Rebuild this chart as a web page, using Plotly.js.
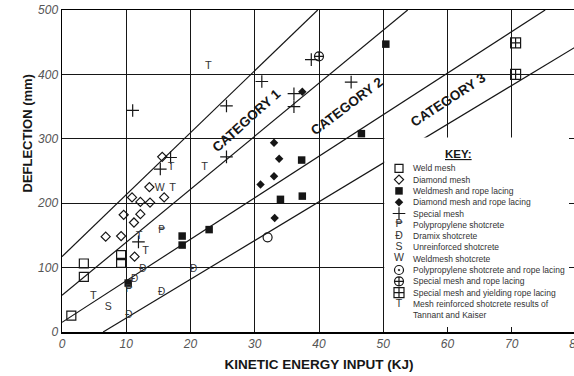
<!DOCTYPE html>
<html>
<head>
<meta charset="utf-8">
<script src="https://cdn.plot.ly/plotly-3.0.1.min.js"></script>
<style>
html,body{margin:0;padding:0;overflow:hidden;background:#fff;width:574px;height:376px;}
#chart{width:577px;height:376px;}
</style>
</head>
<body>
<div id="chart"></div>
<script>
// ---------------- data ----------------
const weldMeshX = [1.45, 3.4, 3.4, 9.2, 9.2];
const weldMeshY = [25.5, 85.6, 106.4, 119.4, 107.4];

const diamondMeshX = [15.6, 13.6, 10.9, 12.2, 13.7, 15.9, 9.6, 12.2, 11.2, 6.8, 9.2, 11.3];
const diamondMeshY = [272, 225, 209, 202, 201, 209, 182, 183, 170, 148, 149, 117];

const weldRopeX = [10.3, 18.7, 18.7, 22.9, 34.0, 37.4, 37.3, 46.6, 50.4];
const weldRopeY = [76, 149, 135, 159, 206, 211, 267, 308, 447];

const diamondRopeX = [30.9, 33.0, 33.0, 33.8, 33.1, 37.4];
const diamondRopeY = [229, 242, 294, 269, 177, 373];

const specialMeshX = [11.0, 25.6, 25.6, 16.9, 15.3, 11.9, 31.1, 45.0, 36.1, 36.1, 38.8];
const specialMeshY = [344, 351, 272, 271, 253, 140, 389, 388, 370, 350, 423];

const polyShotX = [15.5, 10.4];
const polyShotY = [158, 66];

const dramixX = [12.6, 20.5, 15.5, 10.4, 11.3];
const dramixY = [97, 97, 61, 26, 81];

const unreinforcedX = [7.2];
const unreinforcedY = [39];

const weldShotX = [15.2];
const weldShotY = [223];

const polyRopeX = [32.0];
const polyRopeY = [147];

const specialRopeX = [40.0];
const specialRopeY = [428];

const yieldingRopeX = [70.6, 70.6];
const yieldingRopeY = [449, 400];

const tannantX = [22.8, 17.0, 22.2, 17.2, 12.0, 13.0, 4.9];
const tannantY = [413, 256, 256, 223, 148, 126, 55];

// category boundary lines [start, end]
const lineAX = [0, 39.8],  lineAY = [117, 500];
const lineBX = [0, 53.8],  lineBY = [57, 500];
const lineCX = [0, 75.2],  lineCY = [15, 500];
const lineDX = [6.4, 80],  lineDY = [0, 443];

const categoryLabels = ['CATEGORY 1', 'CATEGORY 2', 'CATEGORY 3'];
const categoryX = [28.7, 44.3, 60.2];
const categoryY = [329, 350, 361];
const categoryAngle = [-42, -37, -33];

const xTicks = [0, 10, 20, 30, 40, 50, 60, 70, 80];
const yTicks = [0, 100, 200, 300, 400, 500];

const keyLabels = ['Weld mesh', 'Diamond mesh', 'Weldmesh and rope lacing', 'Diamond mesh and rope lacing',
  'Special mesh', 'Polypropylene shotcrete', 'Dramix shotcrete', 'Unreinforced shotcrete',
  'Weldmesh shotcrete', 'Polypropylene shotcrete and rope lacing', 'Special mesh and rope lacing',
  'Special mesh and yielding rope lacing', 'Mesh reinforced shotcrete results of', 'Tannant and Kaiser'];
// key symbol per row: marker symbol, or a letter (text), or '' for none
const keyMarkerSymbols = ['square-open', 'diamond-open', 'square', 'diamond', 'cross-thin-open', '', '', '', '',
  'circle-open-dot', 'circle-cross-open', 'square-cross-open', '', ''];
const keyLetters = ['', '', '', '', '', '\u20B1', '\u0110', 'S', 'W', '', '', '', 'T', ''];

// ---------------- layout constants ----------------
const W = 577, H = 376, ML = 62, MR = 1, MT = 10, MB = 44;
const XR = [0, 80], YR = [0, 500];
const pw = W - ML - MR, ph = H - MT - MB;
const px2paper = p => (p - ML) / pw;
const py2paper = p => (H - MB - p) / ph;
const px2x = p => XR[0] + px2paper(p) * (XR[1] - XR[0]);
const py2y = p => YR[0] + py2paper(p) * (YR[1] - YR[0]);
const KEY_TOP = 168.3, KEY_STEP = 11.3, KEY_SYM_PX = 399, KEY_TEXT_PX = 411.5;

const FONT = 'Liberation Sans, Arial, Helvetica, sans-serif';
const INK = '#161616';

function lineTrace(x, y) {
  return {x: x, y: y, type: 'scatter', mode: 'lines', line: {color: INK, width: 1.2}, hoverinfo: 'skip', showlegend: false};
}
function markTrace(x, y, symbol, size, filled) {
  return {x: x, y: y, type: 'scatter', mode: 'markers', showlegend: false,
    marker: {symbol: symbol, size: size, color: INK, line: {color: INK, width: filled ? 0 : 1.2}}};
}
function textTrace(x, y, ch, size) {
  return {x: x, y: y, type: 'scatter', mode: 'text', showlegend: false,
    text: Array.isArray(ch) ? ch : x.map(() => ch), textposition: 'middle center',
    textfont: {family: FONT, size: size, color: '#333'}};
}

const sizeBySymbol = {'square-open': 8, 'diamond-open': 7, 'square': 7.5, 'diamond': 6.5, 'cross-thin-open': 9,
  'circle-open-dot': 9, 'circle-open': 9, 'circle-cross-open': 9, 'square-cross-open': 10};

const traces = [
  lineTrace(lineAX, lineAY), lineTrace(lineBX, lineBY), lineTrace(lineCX, lineCY), lineTrace(lineDX, lineDY),
  markTrace(weldMeshX, weldMeshY, 'square-open', 9, false),
  markTrace(diamondMeshX, diamondMeshY, 'diamond-open', 7, false),
  markTrace(weldRopeX, weldRopeY, 'square', 7.5, true),
  markTrace(diamondRopeX, diamondRopeY, 'diamond', 6.5, true),
  markTrace(specialMeshX, specialMeshY, 'cross-thin-open', 9, false),
  markTrace(polyRopeX, polyRopeY, 'circle-open', 9, false),
  markTrace(specialRopeX, specialRopeY, 'circle-cross-open', 9, false),
  markTrace(yieldingRopeX, yieldingRopeY, 'square-cross-open', 10, false),
  textTrace(polyShotX, polyShotY, '\u20B1', 10),
  textTrace(dramixX, dramixY, '\u0110', 10),
  textTrace(unreinforcedX, unreinforcedY, 'S', 10.5),
  textTrace(weldShotX, weldShotY, 'W', 10.5),
  textTrace(tannantX, tannantY, 'T', 11)
];

// key background (white panel over the lower-right of the plot)
const boxX0 = 50.15, boxX1 = px2x(569), boxY0 = py2y(327), boxY1 = 302;
traces.push({x: [boxX0, boxX1, boxX1, boxX0, boxX0], y: [boxY0, boxY0, boxY1, boxY1, boxY0],
  type: 'scatter', mode: 'lines', fill: 'toself', fillcolor: '#fff', line: {width: 0, color: 'rgba(0,0,0,0)'},
  hoverinfo: 'skip', showlegend: false});

// key symbols
const keyRowY = keyLabels.map((_, i) => py2y(KEY_TOP + i * KEY_STEP));
keyMarkerSymbols.forEach((s, i) => {
  if (!s) return;
  const filled = (s === 'square' || s === 'diamond');
  traces.push(markTrace([px2x(KEY_SYM_PX)], [keyRowY[i]], s, sizeBySymbol[s], filled));
});
const letterRows = keyLetters.map((c, i) => c ? i : -1).filter(i => i >= 0);
traces.push(textTrace(letterRows.map(() => px2x(KEY_SYM_PX)), letterRows.map(i => keyRowY[i]),
  letterRows.map(i => keyLetters[i]), 10.5));

const annotations = [];
categoryLabels.forEach((t, i) => {
  annotations.push({xref: 'x', yref: 'y', x: categoryX[i], y: categoryY[i], text: t, showarrow: false,
    textangle: categoryAngle[i], font: {family: FONT, size: 13.5, color: INK, weight: 'bold'}});
});
annotations.push({xref: 'paper', yref: 'paper', x: px2paper(17), y: py2paper(134), text: 'DEFLECTION (mm)',
  showarrow: false, textangle: -90, font: {family: FONT, size: 13, color: INK, weight: 'bold'}});
annotations.push({xref: 'paper', yref: 'paper', x: px2paper(473.5), y: py2paper(154), text: '<u>KEY:</u>',
  showarrow: false, font: {family: FONT, size: 11.5, color: INK, weight: 'bold'}});
keyLabels.forEach((t, i) => {
  annotations.push({xref: 'paper', yref: 'paper', x: px2paper(KEY_TEXT_PX), y: py2paper(KEY_TOP + i * KEY_STEP),
    xanchor: 'left', yanchor: 'middle', text: t, showarrow: false, borderpad: 0,
    font: {family: FONT, size: 8.5, color: '#333'}});
});

const axisCommon = {
  showgrid: true, gridcolor: INK, gridwidth: 1, zeroline: false,
  showline: true, linecolor: '#000', linewidth: 1.5, mirror: true, ticks: '',
  ticklabeloverflow: 'allow',
  tickfont: {family: FONT, size: 12, color: '#555', style: 'italic'}, fixedrange: true
};

const layout = {
  width: W, height: H, margin: {l: ML, r: MR, t: MT, b: MB},
  paper_bgcolor: '#fff', plot_bgcolor: '#fff', showlegend: false,
  xaxis: Object.assign({}, axisCommon, {range: XR, tickvals: xTicks, ticktext: xTicks.map(String),
    title: {text: 'KINETIC ENERGY INPUT (KJ)', standoff: 9, font: {family: FONT, size: 13.5, color: INK, weight: 'bold'}}}),
  yaxis: Object.assign({}, axisCommon, {range: YR, tickvals: yTicks, ticktext: yTicks.map(String)}),
  annotations: annotations
};

Plotly.newPlot('chart', traces, layout, {displayModeBar: false, staticPlot: true});
</script>
</body>
</html>
